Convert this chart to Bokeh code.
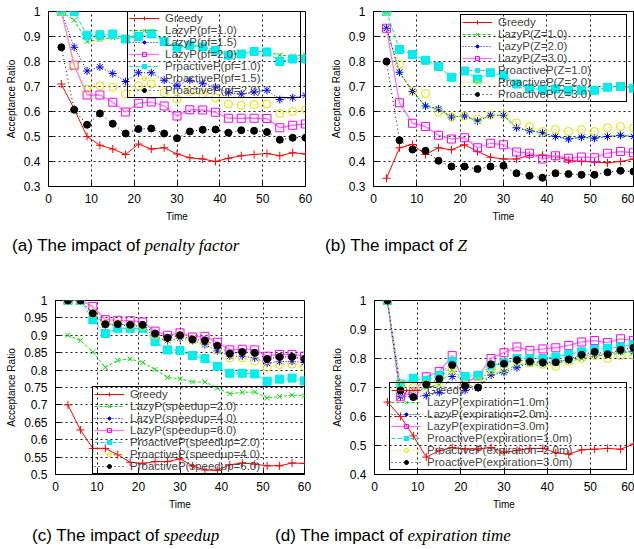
from bokeh.plotting import figure
from bokeh.models import Legend, LegendItem, Range1d, FixedTicker, PrintfTickFormatter, Label
from bokeh.layouts import column, row
from bokeh.embed import file_html
from bokeh.resources import INLINE

# ---------------- data ----------------
time = [3, 6, 9, 12, 15, 18, 21, 24, 27, 30, 33, 36, 39, 42, 45, 48, 51, 54, 57, 60]
x_ticks = [0, 10, 20, 30, 40, 50, 60]

# (a) impact of penalty factor
a_labels = ["Greedy", "LazyP(pf=1.0)", "LazyP(pf=1.5)", "LazyP(pf=2.0)",
            "ProactiveP(pf=1.0)", "ProactiveP(pf=1.5)", "ProactiveP(pf=2.0)"]
a_greedy = [0.71, 0.61, 0.50, 0.465, 0.45, 0.428, 0.47, 0.45, 0.455, 0.43, 0.415, 0.41, 0.40, 0.413, 0.423, 0.428, 0.432, 0.423, 0.435, 0.43]
a_lazy10 = [1.0, 0.965, 0.88, 0.888, 0.895, 0.89, 0.91, 0.92, 0.88, 0.855, 0.865, 0.86, 0.845, 0.828, 0.835, 0.84, 0.84, 0.825, 0.822, 0.825]
a_lazy15 = [1.0, 0.857, 0.762, 0.778, 0.752, 0.72, 0.755, 0.755, 0.725, 0.705, 0.725, 0.713, 0.698, 0.675, 0.67, 0.678, 0.685, 0.648, 0.655, 0.665]
a_lazy20 = [1.0, 0.785, 0.666, 0.666, 0.637, 0.598, 0.633, 0.638, 0.622, 0.582, 0.607, 0.606, 0.597, 0.573, 0.573, 0.573, 0.572, 0.535, 0.545, 0.55]
a_pro10 = [1.0, 1.0, 0.905, 0.907, 0.91, 0.89, 0.90, 0.91, 0.88, 0.855, 0.865, 0.858, 0.845, 0.825, 0.83, 0.84, 0.838, 0.80, 0.81, 0.81]
a_pro15 = [1.0, 0.785, 0.69, 0.703, 0.697, 0.67, 0.703, 0.71, 0.675, 0.65, 0.68, 0.67, 0.655, 0.63, 0.625, 0.628, 0.63, 0.592, 0.60, 0.607]
a_pro20 = [0.857, 0.607, 0.547, 0.592, 0.551, 0.512, 0.53, 0.532, 0.512, 0.493, 0.52, 0.527, 0.528, 0.515, 0.525, 0.523, 0.518, 0.487, 0.495, 0.495]
a_yticks = [0.3, 0.4, 0.5, 0.6, 0.7, 0.8, 0.9, 1.0]

# (b) impact of Z
b_labels = ["Greedy", "LazyP(Z=1.0)", "LazyP(Z=2.0)", "LazyP(Z=3.0)",
            "ProactiveP(Z=1.0)", "ProactiveP(Z=2.0)", "ProactiveP(Z=3.0)"]
b_greedy = [0.333, 0.455, 0.468, 0.428, 0.455, 0.447, 0.467, 0.44, 0.417, 0.41, 0.41, 0.425, 0.425, 0.42, 0.405, 0.40, 0.398, 0.395, 0.40, 0.41]
b_lazy1 = [0.933, 0.757, 0.68, 0.622, 0.61, 0.578, 0.582, 0.562, 0.585, 0.585, 0.535, 0.523, 0.515, 0.50, 0.49, 0.497, 0.493, 0.50, 0.505, 0.50]
b_lazy2 = [0.933, 0.757, 0.68, 0.622, 0.61, 0.578, 0.582, 0.562, 0.585, 0.585, 0.535, 0.523, 0.515, 0.50, 0.49, 0.497, 0.493, 0.50, 0.505, 0.50]
b_lazy3 = [0.933, 0.635, 0.553, 0.54, 0.505, 0.49, 0.495, 0.455, 0.473, 0.467, 0.438, 0.433, 0.41, 0.423, 0.413, 0.418, 0.415, 0.433, 0.44, 0.435]
b_pro1 = [1.0, 0.848, 0.828, 0.805, 0.78, 0.737, 0.762, 0.73, 0.755, 0.745, 0.71, 0.693, 0.688, 0.69, 0.685, 0.685, 0.685, 0.697, 0.70, 0.693]
b_pro2 = [1.0, 0.788, 0.68, 0.672, 0.597, 0.578, 0.582, 0.57, 0.585, 0.587, 0.555, 0.54, 0.52, 0.528, 0.52, 0.528, 0.52, 0.535, 0.54, 0.535]
b_pro3 = [0.80, 0.485, 0.448, 0.443, 0.403, 0.38, 0.38, 0.37, 0.38, 0.383, 0.353, 0.343, 0.335, 0.353, 0.35, 0.347, 0.347, 0.357, 0.363, 0.36]
b_yticks = [0.3, 0.4, 0.5, 0.6, 0.7, 0.8, 0.9, 1.0]

# (c) impact of speedup
c_labels = ["Greedy", "LazyP(speedup=2.0)", "LazyP(speedup=4.0)", "LazyP(speedup=6.0)",
            "ProactiveP(speedup=2.0)", "ProactiveP(speedup=4.0)", "ProactiveP(speedup=6.0)"]
c_greedy = [0.70, 0.628, 0.575, 0.575, 0.557, 0.535, 0.532, 0.537, 0.537, 0.545, 0.525, 0.513, 0.512, 0.528, 0.533, 0.53, 0.525, 0.525, 0.533, 0.532]
c_lazy2 = [0.90, 0.885, 0.852, 0.808, 0.828, 0.832, 0.822, 0.802, 0.779, 0.775, 0.766, 0.766, 0.748, 0.732, 0.736, 0.737, 0.72, 0.724, 0.728, 0.726]
c_lazy4 = [1.0, 1.0, 0.965, 0.93, 0.93, 0.928, 0.925, 0.895, 0.885, 0.893, 0.885, 0.873, 0.855, 0.84, 0.84, 0.835, 0.82, 0.825, 0.825, 0.822]
c_lazy6 = [1.0, 1.0, 0.983, 0.945, 0.943, 0.942, 0.938, 0.912, 0.90, 0.907, 0.895, 0.897, 0.88, 0.858, 0.86, 0.858, 0.84, 0.845, 0.845, 0.84]
c_pro2 = [1.0, 1.0, 0.945, 0.905, 0.92, 0.92, 0.92, 0.882, 0.858, 0.856, 0.842, 0.833, 0.811, 0.791, 0.791, 0.789, 0.768, 0.774, 0.777, 0.769]
c_pro4 = [1.0, 1.0, 0.963, 0.933, 0.933, 0.93, 0.927, 0.90, 0.89, 0.90, 0.887, 0.88, 0.858, 0.835, 0.835, 0.826, 0.808, 0.816, 0.817, 0.81]
c_pro6 = [1.0, 1.0, 0.963, 0.932, 0.932, 0.93, 0.93, 0.905, 0.893, 0.90, 0.888, 0.885, 0.87, 0.848, 0.852, 0.85, 0.832, 0.838, 0.838, 0.832]
c_yticks = [0.5, 0.55, 0.6, 0.65, 0.7, 0.75, 0.8, 0.85, 0.9, 0.95, 1.0]

# (d) impact of expiration time
d_labels = ["Greedy", "LazyP(expiration=1.0m)", "LazyP(expiration=2.0m)", "LazyP(expiration=3.0m)",
            "ProactiveP(expiration=1.0m)", "ProactiveP(expiration=2.0m)", "ProactiveP(expiration=3.0m)"]
d_greedy = [0.65, 0.60, 0.533, 0.46, 0.482, 0.493, 0.488, 0.488, 0.493, 0.477, 0.483, 0.49, 0.49, 0.475, 0.47, 0.485, 0.487, 0.49, 0.487, 0.505]
d_lazy1 = [1.0, 0.67, 0.69, 0.70, 0.71, 0.76, 0.71, 0.70, 0.75, 0.755, 0.78, 0.78, 0.775, 0.785, 0.79, 0.80, 0.81, 0.81, 0.82, 0.82]
d_lazy2 = [1.0, 0.668, 0.668, 0.672, 0.683, 0.738, 0.69, 0.698, 0.743, 0.752, 0.768, 0.785, 0.785, 0.79, 0.795, 0.81, 0.815, 0.815, 0.825, 0.825]
d_lazy3 = [1.0, 0.668, 0.685, 0.737, 0.755, 0.81, 0.715, 0.74, 0.80, 0.82, 0.84, 0.828, 0.833, 0.837, 0.845, 0.857, 0.862, 0.855, 0.868, 0.862]
d_pro1 = [1.0, 0.712, 0.732, 0.725, 0.742, 0.79, 0.738, 0.742, 0.775, 0.785, 0.80, 0.80, 0.80, 0.805, 0.815, 0.823, 0.832, 0.835, 0.84, 0.848]
d_pro2 = [1.0, 0.71, 0.70, 0.712, 0.72, 0.765, 0.71, 0.72, 0.76, 0.765, 0.79, 0.785, 0.78, 0.773, 0.79, 0.80, 0.81, 0.80, 0.81, 0.81]
d_pro3 = [1.0, 0.69, 0.667, 0.71, 0.73, 0.778, 0.705, 0.70, 0.78, 0.782, 0.795, 0.79, 0.787, 0.787, 0.797, 0.813, 0.823, 0.815, 0.83, 0.837]
d_yticks = [0.4, 0.5, 0.6, 0.7, 0.8, 0.9, 1.0]

# ---------------- styles ----------------
STYLES = [
    dict(line="#ff0000", dash="solid", lw=1.0, marker="cross", size=8, mline="#ff0000", fill=None),
    dict(line="#00e000", dash="3 2", lw=1.0, marker="x", size=7, mline="#00e000", fill=None),
    dict(line="#0000ff", dash="1 2", lw=1.0, marker="asterisk", size=8, mline="#0000ff", fill=None),
    dict(line="#ff70ff", dash="solid", lw=1.3, marker="square", size=8, mline="#ff00ff", fill=None),
    dict(line="#00e0e0", dash="4 2", lw=1.0, marker="square", size=8, mline="#00e8e8", fill="#00f0f0"),
    dict(line="#e8e800", dash="1 2", lw=1.0, marker="circle", size=8, mline="#e0e000", fill=None),
    dict(line="#000000", dash="1 3", lw=1.0, marker="circle", size=7, mline="#000000", fill="#000000"),
]
SANS = "Liberation Sans"
SERIF = "Liberation Serif"


def panel(series, labels, y_lo, y_hi, yticks, width, height, bl, br, bt, bb, leg_xy, leg_lw):
    p = figure(width=width, height=height, output_backend="svg", toolbar_location=None,
               x_range=Range1d(0, 60), y_range=Range1d(y_lo, y_hi),
               min_border_left=bl, min_border_right=br, min_border_top=bt, min_border_bottom=bb)
    p.background_fill_color = "white"
    p.border_fill_color = "white"
    p.outline_line_color = "black"
    p.outline_line_alpha = 1.0
    p.outline_line_width = 1
    p.xaxis.ticker = FixedTicker(ticks=x_ticks)
    p.yaxis.ticker = FixedTicker(ticks=yticks)
    p.yaxis.formatter = PrintfTickFormatter(format="%g")
    p.xaxis.axis_label = "Time"
    p.yaxis.axis_label = "Acceptance Ratio"
    for ax in (p.xaxis[0], p.yaxis[0]):
        ax.axis_line_color = "black"
        ax.major_tick_line_color = "black"
        ax.major_tick_in = 5
        ax.major_tick_out = 0
        ax.minor_tick_line_color = None
        ax.major_label_text_font = SANS
        ax.major_label_text_font_size = "12px"
        ax.major_label_text_color = "black"
        ax.axis_label_text_font = SANS
        ax.axis_label_text_font_size = "10px"
        ax.axis_label_text_font_style = "normal"
        ax.axis_label_text_color = "black"
    p.yaxis.major_label_standoff = 8
    p.yaxis.axis_label_standoff = 4
    p.xaxis.major_label_standoff = 7
    p.xaxis.axis_label_standoff = 5
    for g in (p.xgrid[0], p.ygrid[0]):
        g.grid_line_color = "black"
        g.grid_line_dash = "2 3"
        g.grid_line_width = 1
        g.grid_line_alpha = 0.9

    items = []
    for vals, lab, st in zip(series, labels, STYLES):
        r1 = p.line(time, vals, line_color=st["line"], line_dash=st["dash"], line_width=st["lw"])
        r2 = p.scatter(time, vals, marker=st["marker"], size=st["size"],
                       line_color=st["mline"], fill_color=st["fill"], line_width=1.0)
        items.append(LegendItem(label=lab, renderers=[r1, r2]))
    leg = Legend(items=items, location=leg_xy, margin=0, padding=1,
                 border_line_color="black", border_line_width=1, border_line_alpha=1.0,
                 background_fill_alpha=0.0,
                 label_text_font=SANS, label_text_font_size="11.5px",
                 label_height=10, glyph_height=10, glyph_width=30,
                 label_width=leg_lw, label_standoff=6, spacing=-3)
    p.add_layout(leg)
    return p


def caption_row(width, height, parts, cy):
    c = figure(width=width, height=height, output_backend="svg", toolbar_location=None,
               x_range=Range1d(0, width), y_range=Range1d(0, height),
               x_axis_type=None, y_axis_type=None, min_border=0)
    c.outline_line_color = None
    c.grid.visible = False
    for plain, ital, bx in parts:
        c.add_layout(Label(x=bx - 4, y=cy, text=plain, text_font=SANS, text_font_size="17px",
                           text_align="right", text_baseline="middle", text_color="black"))
        c.add_layout(Label(x=bx, y=cy, text=ital, text_font=SERIF, text_font_size="17px",
                           text_font_style="italic", text_align="left", text_baseline="middle",
                           text_color="black"))
    return c


pa = panel([a_greedy, a_lazy10, a_lazy15, a_lazy20, a_pro10, a_pro15, a_pro20], a_labels,
           0.3, 1.0, a_yticks, 317, 224, 48, 12, 11, 37, (79, 88), 134)
pb = panel([b_greedy, b_lazy1, b_lazy2, b_lazy3, b_pro1, b_pro2, b_pro3], b_labels,
           0.3, 1.0, b_yticks, 317, 224, 56, 1, 11, 37, (87, 84), 127)
pc = panel([c_greedy, c_lazy2, c_lazy4, c_lazy6, c_pro2, c_pro4, c_pro6], c_labels,
           0.5, 1.0, c_yticks, 317, 250, 55, 13, 38, 35, (37, 0), 173)
pd_ = panel([d_greedy, d_lazy1, d_lazy2, d_lazy3, d_pro1, d_pro2, d_pro3], d_labels,
            0.4, 1.0, d_yticks, 317, 250, 57, 1, 38, 35, (15, 4), 198)

cap1 = caption_row(634, 38, [("(a) The impact of", "penalty factor", 144),
                             ("(b) The impact of", "Z", 457)], 17)
cap2 = caption_row(634, 36, [("(c) The impact of", "speedup", 163),
                             ("(d) The impact of", "expiration time", 407)], 13)

layout = column(row(pa, pb), cap1, row(pc, pd_), cap2)

with open("out.html", "w") as f:
    f.write(file_html(layout, INLINE))
